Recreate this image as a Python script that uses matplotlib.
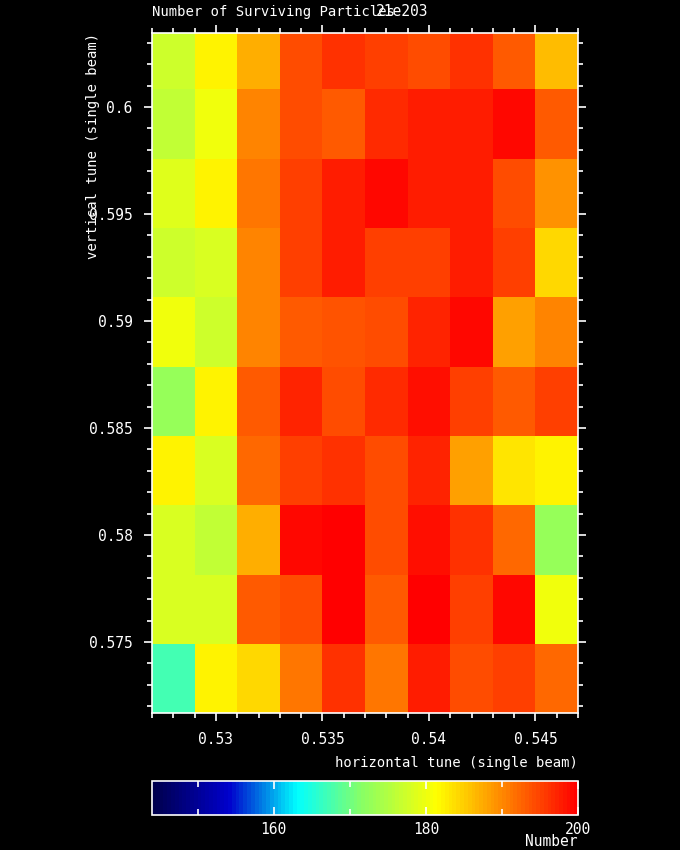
import numpy as np
import matplotlib
matplotlib.use("Agg")
import matplotlib.pyplot as plt
from matplotlib.colors import LinearSegmentedColormap
from matplotlib.ticker import MultipleLocator, FuncFormatter

plt.rcParams["font.family"] = ["DejaVu Sans Mono", "DejaVu Sans"]

# ---- data ----
h_tune = [0.528, 0.530, 0.532, 0.534, 0.536, 0.538, 0.540, 0.542, 0.544, 0.546]
v_tune = [0.57329, 0.57653, 0.57977, 0.58301, 0.58625, 0.58949, 0.59273, 0.59597, 0.59921, 0.60245]

# rows listed bottom -> top, columns left -> right
survivors = [
    [167, 182, 184, 191, 196, 191, 197.5, 194, 195, 192],
    [178, 178, 193, 194, 200, 193, 200, 195, 199, 180],
    [178, 176, 187, 199, 200, 194, 198.5, 196, 192, 172.5],
    [182, 178, 192, 195, 196, 194, 197, 188, 183, 182],
    [172.5, 182, 193, 197, 194, 196.5, 198.5, 195, 193, 195],
    [180, 177, 190, 193, 193.5, 194, 197, 199, 188, 190],
    [177, 178, 190, 195, 197.5, 195, 195, 197.5, 195, 184],
    [178.5, 182, 191, 195, 197.5, 199, 197.5, 197.5, 194, 189],
    [176, 180, 190, 194, 193, 196.5, 197.5, 197.5, 199, 193],
    [177, 182, 187, 194, 196, 195, 194, 196, 193, 186],
]

vmin, vmax = 144, 200
xlim = (0.527, 0.547)
ylim = (0.57168, 0.60346)

# ---- colormap ----
anchors = [
    (144, (0.0, 0.0, 0.30)),
    (154, (0.0, 0.0, 0.80)),
    (163, (0.0, 1.0, 1.0)),
    (171.5, (0.53, 1.0, 0.40)),
    (181.5, (1.0, 1.0, 0.0)),
    (200, (1.0, 0.0, 0.0)),
]
cmap = LinearSegmentedColormap.from_list(
    "surv", [((v - vmin) / (vmax - vmin), c) for v, c in anchors], N=112)

fig = plt.figure(figsize=(6.8, 8.5), dpi=100, facecolor="black")
ax = fig.add_axes([152/680, 1-713/850, 426/680, 680/850], facecolor="black")

hx = np.array(h_tune)
vy = np.array(v_tune)
dx = hx[1] - hx[0]
dy = vy[1] - vy[0]
x_edges = np.append(hx - dx/2, hx[-1] + dx/2)
y_edges = np.append(vy - dy/2, vy[-1] + dy/2)
mesh = ax.pcolormesh(x_edges, y_edges, np.array(survivors), cmap=cmap,
                     vmin=vmin, vmax=vmax, shading="flat")
ax.set_xlim(*xlim)
ax.set_ylim(*ylim)

fs = 10.5
for s in ax.spines.values():
    s.set_color("white")
    s.set_linewidth(1.2)
ax.xaxis.set_major_locator(MultipleLocator(0.005))
ax.xaxis.set_minor_locator(MultipleLocator(0.001))
ax.yaxis.set_major_locator(MultipleLocator(0.005))
ax.yaxis.set_minor_locator(MultipleLocator(0.001))
ax.xaxis.set_major_formatter(FuncFormatter(lambda v, p: f"{v:g}"))
ax.yaxis.set_major_formatter(FuncFormatter(lambda v, p: f"{v:g}"))
ax.tick_params(which="both", direction="out", colors="white", top=True, right=True,
               labelsize=fs, width=1.2)
ax.tick_params(which="major", length=6, pad=8)
ax.tick_params(which="minor", length=3.5)

ax.set_xlabel("horizontal tune (single beam)", color="white", fontsize=10)
ax.xaxis.set_label_coords(1.0, -0.063)
ax.xaxis.label.set_horizontalalignment("right")
ax.set_ylabel("vertical tune (single beam)", color="white", fontsize=10)
ax.yaxis.set_label_coords(-0.122, 1.0)
ax.yaxis.label.set_horizontalalignment("right")

fig.text(152/680, 1-12/850, "Number of Surviving Particles", color="white",
         fontsize=10, ha="left", va="center")
fig.text(428/680, 1-12/850, "21e203", color="white",
         fontsize=10.5, ha="right", va="center")

# ---- colorbar ----
cax = fig.add_axes([152/680, 1-815/850, 426/680, 34/850], facecolor="black")
cb = fig.colorbar(mesh, cax=cax, orientation="horizontal")
cb.outline.set_edgecolor("white")
cb.outline.set_linewidth(1.2)
cb.set_ticks([160, 180, 200])
cb.ax.xaxis.set_minor_locator(MultipleLocator(10))
cax.tick_params(which="both", direction="in", colors="white", top=True, bottom=True,
                labelsize=fs, width=1.2)
cax.tick_params(which="major", length=6, pad=5)
cax.tick_params(which="minor", length=4)
fig.text(578/680, 0.001, "Number", color="white", fontsize=10.5,
         ha="right", va="bottom")

fig.savefig("out.png", dpi=100, facecolor="black")
